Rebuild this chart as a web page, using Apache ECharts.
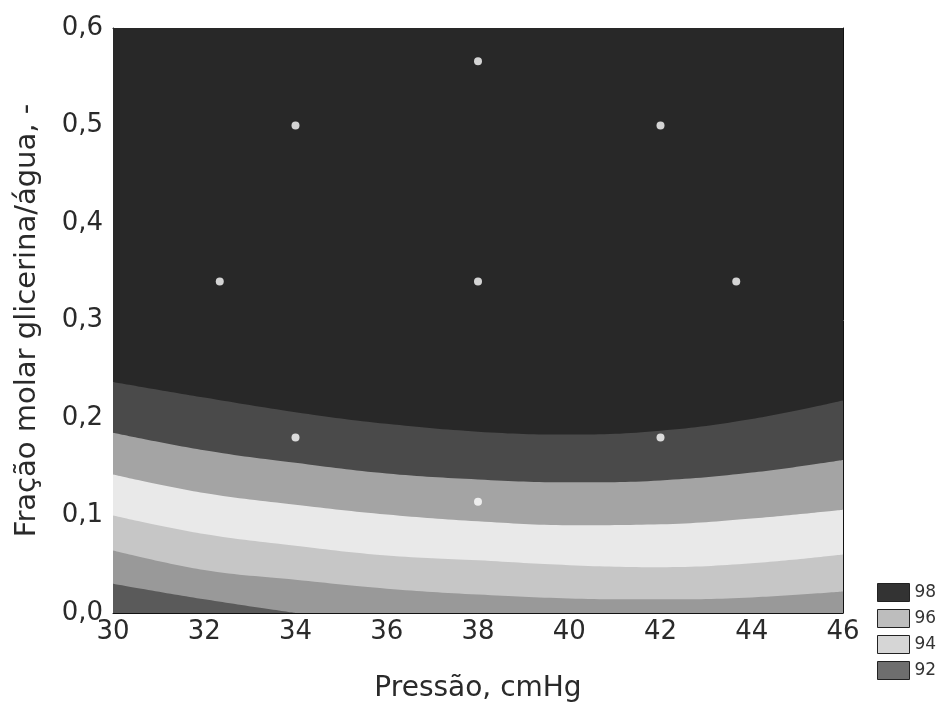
<!DOCTYPE html>
<html><head><meta charset="utf-8">
<script src="https://cdn.jsdelivr.net/npm/echarts@6/dist/echarts.min.js"></script>
<style>html,body{margin:0;padding:0;background:#fff}#c{width:948px;height:713px}</style>
</head><body><div id="c"></div>
<script>
// x positions (Pressão, cmHg) at which contour boundaries were read
const pressure = [30, 32, 34, 36, 38, 40, 42, 44, 46];
// top of the plot (darkest band > 98)
const edgeTop  = [0.6, 0.6, 0.6, 0.6, 0.6, 0.6, 0.6, 0.6, 0.6];
// contour boundaries (fração molar), top to bottom
const edge1 = [0.237, 0.221, 0.206, 0.194, 0.186, 0.183, 0.187, 0.199, 0.218];
const edge2 = [0.185, 0.167, 0.154, 0.143, 0.137, 0.134, 0.136, 0.144, 0.157];
const edge3 = [0.142, 0.123, 0.111, 0.101, 0.094, 0.090, 0.091, 0.097, 0.106];
const edge4 = [0.100, 0.081, 0.069, 0.059, 0.054, 0.049, 0.047, 0.051, 0.060];
const edge5 = [0.064, 0.044, 0.034, 0.025, 0.019, 0.015, 0.014, 0.016, 0.022];
const edge6x = [30, 32, 34];
const edge6 = [0.030, 0.014, 0.000];
// experimental design points
const designP = [38, 34, 42, 32.34, 38, 43.66, 34, 42, 38];
const designF = [0.566, 0.5, 0.5, 0.34, 0.34, 0.34, 0.18, 0.18, 0.114];
// legend
const legendLevels = ['98', '96', '94', '92'];
const legendColors = ['#333333', '#bdbdbd', '#d6d6d6', '#6e6e6e'];

const FONT = 'DejaVu Sans';
const pairs = (xs, ys) => xs.map((x, i) => [x, ys[i]]);

function band(name, xs, ys, color) {
  return {
    name: name, type: 'line', data: pairs(xs, ys), smooth: 0.4,
    showSymbol: false, symbol: 'none', silent: true, clip: true,
    lineStyle: { width: 0, color: color }, itemStyle: { color: color },
    areaStyle: { color: color, opacity: 1, origin: 'start' },
    xAxisIndex: 0, yAxisIndex: 0
  };
}

const chart = echarts.init(document.getElementById('c'), null, { renderer: 'canvas' });
chart.setOption({
  animation: false,
  backgroundColor: '#ffffff',
  textStyle: { fontFamily: FONT },
  grid: { left: 113, right: 105, top: 28, bottom: 100, show: false },
  legend: {
    orient: 'vertical', left: 872, top: 578, itemWidth: 32, itemHeight: 18, itemGap: 7,
    icon: 'rect', selectedMode: false,
    textStyle: { fontFamily: FONT, fontSize: 17, color: '#333' },
    data: legendLevels.map((n, i) => ({
      name: n, icon: 'rect',
      itemStyle: { color: legendColors[i], borderColor: '#222', borderWidth: 1 }
    }))
  },
  xAxis: [{
    type: 'value', min: 30, max: 46, interval: 2,
    name: 'Pressão, cmHg', nameLocation: 'middle', nameGap: 62,
    nameTextStyle: { fontFamily: FONT, fontSize: 28, color: '#2a2a2a' },
    axisLine: { show: true, lineStyle: { color: '#111', width: 1 } },
    axisTick: { show: true, inside: true, length: 4, lineStyle: { color: '#111' } },
    axisLabel: { fontFamily: FONT, fontSize: 26, color: '#2a2a2a', margin: 6,
      formatter: v => String(v) },
    splitLine: { show: false }
  }, {
    type: 'value', min: 30, max: 46, interval: 2, position: 'top',
    axisLine: { show: true, onZero: false, lineStyle: { color: '#111', width: 1 } },
    axisTick: { show: false }, axisLabel: { show: false }, splitLine: { show: false }
  }],
  yAxis: [{
    type: 'value', min: 0, max: 0.6, interval: 0.1,
    name: 'Fração molar glicerina/água, -', nameLocation: 'middle', nameGap: 71, nameRotate: 90,
    nameTextStyle: { fontFamily: FONT, fontSize: 29, color: '#2a2a2a' },
    axisLine: { show: true, lineStyle: { color: '#111', width: 1 } },
    axisTick: { show: true, inside: true, length: 4, lineStyle: { color: '#111' } },
    axisLabel: { fontFamily: FONT, fontSize: 26, color: '#2a2a2a', margin: 10,
      formatter: v => v.toFixed(1).replace('.', ',') },
    splitLine: { show: false }
  }, {
    type: 'value', min: 0, max: 0.6, interval: 0.1, position: 'right',
    axisLine: { show: true, onZero: false, lineStyle: { color: '#111', width: 1 } },
    axisTick: { show: false }, axisLabel: { show: false }, splitLine: { show: false }
  }],
  series: [
    band('98', pressure, edgeTop, '#282828'),
    band('b1', pressure, edge1, '#4a4a4a'),
    band('96', pressure, edge2, '#a4a4a4'),
    band('94', pressure, edge3, '#e9e9e9'),
    band('b4', pressure, edge4, '#c6c6c6'),
    band('b5', pressure, edge5, '#999999'),
    band('92', edge6x, edge6, '#5a5a5a'),
    {
      name: 'pontos', type: 'scatter', data: pairs(designP, designF),
      symbol: 'circle', symbolSize: 8, silent: true, z: 5,
      itemStyle: { color: '#ffffff', borderWidth: 0 }
    }
  ]
});
</script>
</body></html>
